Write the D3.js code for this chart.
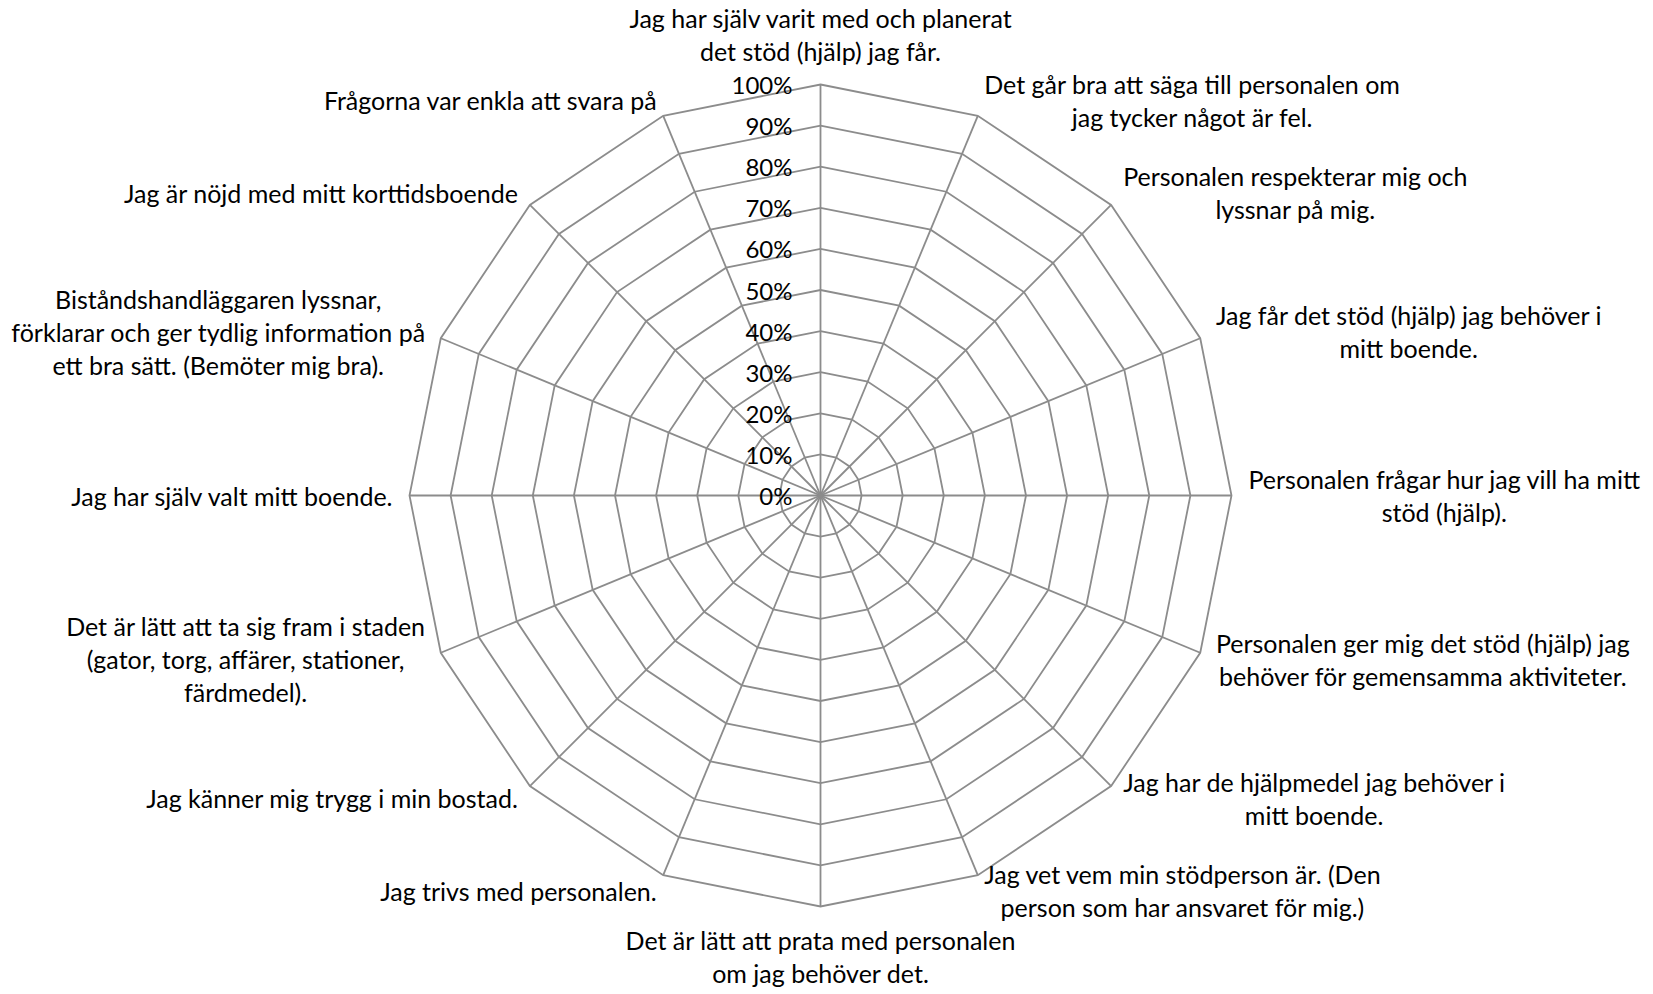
<!DOCTYPE html>
<html>
<head>
<meta charset="utf-8">
<script src="https://cdn.jsdelivr.net/npm/d3@7"></script>
<style>
  body { margin: 0; background: white; }
  text { font-family: Lato, "Open Sans", sans-serif; fill: #000; }
</style>
</head>
<body>
<script>
// axis labels, clockwise from the top
const categories = [
  "Jag har själv varit med och planerat\ndet stöd (hjälp) jag får.",
  "Det går bra att säga till personalen om\njag tycker något är fel.",
  "Personalen respekterar mig och\nlyssnar på mig.",
  "Jag får det stöd (hjälp) jag behöver i\nmitt boende.",
  "Personalen frågar hur jag vill ha mitt\nstöd (hjälp).",
  "Personalen ger mig det stöd (hjälp) jag\nbehöver för gemensamma aktiviteter.",
  "Jag har de hjälpmedel jag behöver i\nmitt boende.",
  "Jag vet vem min stödperson är. (Den\nperson som har ansvaret för mig.)",
  "Det är lätt att prata med personalen\nom jag behöver det.",
  "Jag trivs med personalen.",
  "Jag känner mig trygg i min bostad.",
  "Det är lätt att ta sig fram i staden\n(gator, torg, affärer, stationer,\nfärdmedel).",
  "Jag har själv valt mitt boende.",
  "Biståndshandläggaren lyssnar,\nförklarar och ger tydlig information på\nett bra sätt. (Bemöter mig bra).",
  "Jag är nöjd med mitt korttidsboende",
  "Frågorna var enkla att svara på"
]
const tickValues = [0, 0.1, 0.2, 0.3, 0.4, 0.5, 0.6, 0.7, 0.8, 0.9, 1]

function main(){
    const width = 1653
    const height = 994
    const cx = 820.5, cy = 495.5
    const R = 411
    const lineH = 33
    const gridColor = '#8c8c8c'

    let svg = d3.select('body')
        .append('svg')
        .attr('width', width)
        .attr('height', height)
        .attr('style', 'background-color: white')

    let rScale = d3.scaleLinear()
        .domain([0, 1])
        .range([0, R])
    let angle = d3.scalePoint()
        .domain(d3.range(categories.length))
        .range([0, 2 * Math.PI * (categories.length - 1) / categories.length])

    const pt = (i, r) => [cx + r * Math.sin(angle(i)), cy - r * Math.cos(angle(i))]

    const g = svg.append('g')

    // rings
    g.selectAll('.ring')
        .data(tickValues.filter(d => d > 0))
        .enter()
        .append('polygon')
        .attr('class', 'ring')
        .attr('points', d => categories.map((c, i) => pt(i, rScale(d)).join(',')).join(' '))
        .attr('fill', 'none')
        .attr('stroke', gridColor)
        .attr('stroke-width', 1.8)

    // spokes
    g.selectAll('.spoke')
        .data(categories)
        .enter()
        .append('line')
        .attr('class', 'spoke')
        .attr('x1', cx)
        .attr('y1', cy)
        .attr('x2', (d, i) => pt(i, rScale(1))[0])
        .attr('y2', (d, i) => pt(i, rScale(1))[1])
        .attr('stroke', gridColor)
        .attr('stroke-width', 1.8)

    // value axis labels
    g.selectAll('.tick')
        .data(tickValues)
        .enter()
        .append('text')
        .attr('class', 'tick')
        .attr('x', cx - 28)
        .attr('y', d => cy - rScale(d))
        .attr('text-anchor', 'end')
        .attr('dominant-baseline', 'central')
        .attr('font-size', '24px')
        .text(d3.format('.0%'))

    // category labels
    categories.forEach((c, i) => {
        const lines = c.split('\n')
        const a = angle(i)
        const dx = Math.sin(a), dy = -Math.cos(a)
        const p = pt(i, rScale(1) + 17)
        const lab = g.append('g')
        const texts = lab.selectAll('text')
            .data(lines)
            .enter()
            .append('text')
            .attr('font-size', '25px')
            .attr('text-anchor', 'middle')
            .attr('dominant-baseline', 'central')
            .text(d => d)
        let w = d3.max(texts.nodes(), n => n.getComputedTextLength())
        let h = lines.length * lineH
        let bx, by
        if (Math.abs(dx) < 0.01) {
            bx = p[0]
            by = p[1] + dy * h / 2
        } else {
            bx = dx > 0 ? p[0] + w / 2 : p[0] - w / 2
            by = p[1]
        }
        texts.attr('x', bx)
            .attr('y', (d, k) => by - (lines.length - 1) * lineH / 2 + k * lineH)
    })
}

main()
</script>
</body>
</html>
